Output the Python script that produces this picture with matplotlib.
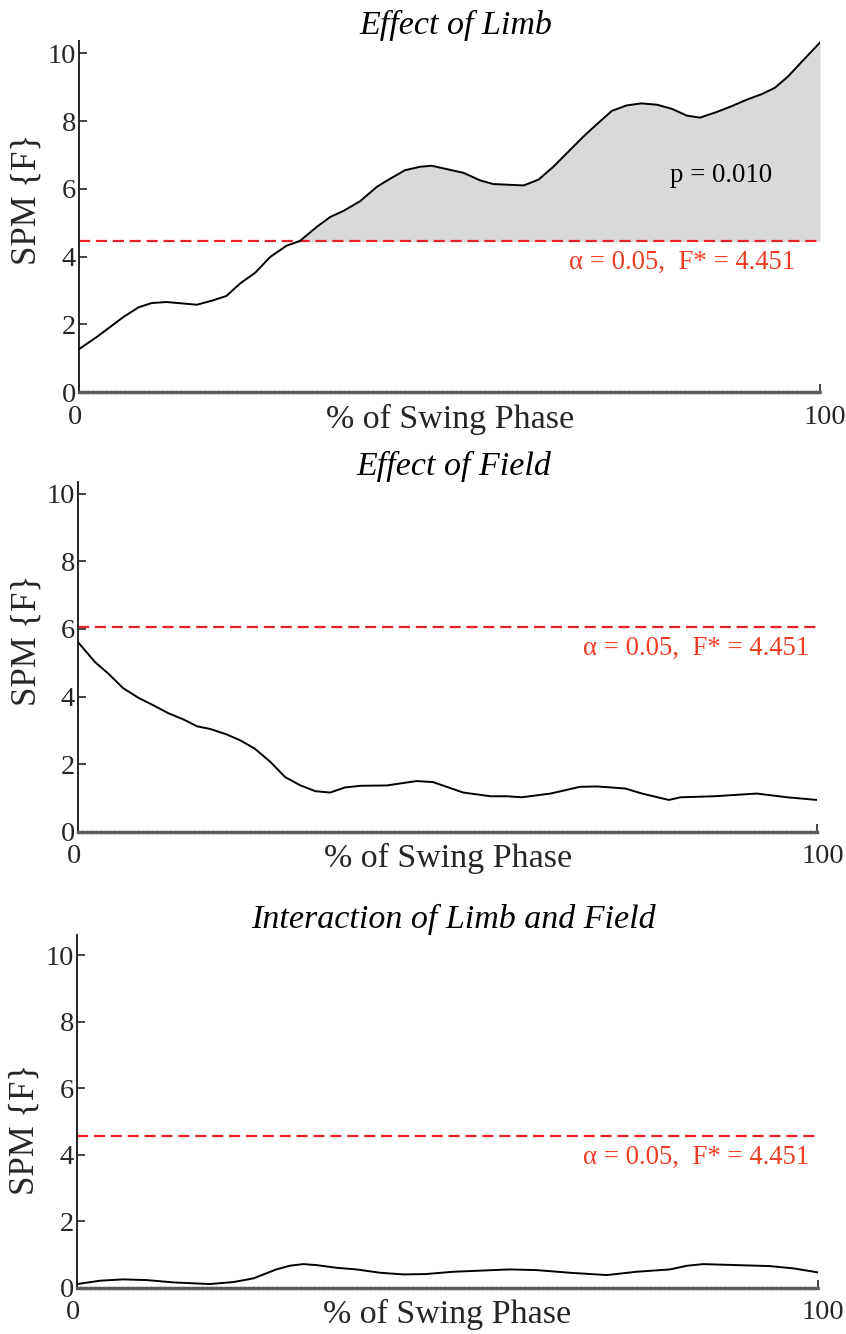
import numpy as np
import matplotlib.pyplot as plt
from matplotlib.transforms import ScaledTranslation

# values (x in % of swing phase, y = SPM{F})
limb_x = [0, 2.4, 6.0, 8.0, 9.8, 11.8, 13.9, 15.9, 18.1, 19.9, 21.7, 23.8, 25.8, 28.0,
          29.8, 32.1, 33.9, 35.7, 37.9, 40.2, 42.0, 44.0, 46.0, 47.6, 51.9, 54.1, 55.9,
          60.0, 62.0, 64.0, 66.0, 68.1, 69.9, 71.9, 73.9, 75.9, 78.0, 80.0, 82.0, 83.8,
          86.1, 88.1, 90.1, 92.1, 93.9, 95.7, 97.7, 100]
limb_f = [1.27, 1.63, 2.22, 2.50, 2.63, 2.66, 2.62, 2.58, 2.71, 2.84, 3.20, 3.53, 3.99, 4.32,
          4.46, 4.88, 5.17, 5.35, 5.63, 6.06, 6.30, 6.55, 6.65, 6.68, 6.47, 6.25, 6.14,
          6.10, 6.27, 6.65, 7.09, 7.55, 7.91, 8.30, 8.46, 8.52, 8.48, 8.36, 8.16, 8.10,
          8.27, 8.44, 8.63, 8.79, 8.98, 9.32, 9.79, 10.32]

field_x = [0, 2.3, 4.1, 6.1, 8.2, 10.2, 12.2, 14.3, 16.1, 17.9, 20.1, 21.9, 23.9, 26.0,
           28.0, 30.0, 32.1, 34.1, 36.1, 38.2, 41.8, 43.6, 45.8, 48.0, 52.1, 55.8, 58.0,
           60.0, 63.9, 67.9, 70.2, 74.0, 76.3, 79.9, 81.5, 86.0, 91.8, 95.9, 100]
field_f = [5.61, 5.02, 4.68, 4.25, 3.96, 3.74, 3.51, 3.32, 3.12, 3.04, 2.88, 2.71, 2.46, 2.07,
           1.62, 1.38, 1.20, 1.16, 1.31, 1.36, 1.37, 1.43, 1.50, 1.47, 1.16, 1.05, 1.05,
           1.02, 1.13, 1.33, 1.34, 1.28, 1.13, 0.94, 1.02, 1.05, 1.13, 1.02, 0.94]

inter_x = [0, 3.1, 6.2, 9.4, 13.0, 17.9, 21.1, 23.8, 26.9, 28.7, 30.5, 32.3, 35.0, 37.7,
           40.9, 44.0, 47.0, 50.8, 58.4, 62.0, 66.5, 71.5, 75.5, 80.0, 82.3, 84.5, 89.0,
           93.5, 96.7, 100]
inter_f = [0.11, 0.21, 0.25, 0.23, 0.16, 0.11, 0.17, 0.28, 0.55, 0.66, 0.71, 0.68, 0.60, 0.55,
           0.45, 0.40, 0.41, 0.48, 0.55, 0.53, 0.45, 0.38, 0.48, 0.55, 0.66, 0.71, 0.68,
           0.65, 0.58, 0.46]

titles = ["Effect of Limb", "Effect of Field", "Interaction of Limb and Field"]
thresholds = [4.451, 6.05, 4.55]   # where the dashed lines sit in the figure
crit_label = "\u03b1 = 0.05,  F* = 4.451"
p_label = "p = 0.010"

plt.rcParams['font.family'] = ['Liberation Serif', 'DejaVu Serif']
TXT = '#262626'
RED_LINE = '#e8202a'
RED_TXT = '#f03c24'

fig = plt.figure(figsize=(8.46, 13.34), dpi=100)
# [left, bottom, width, height] in figure fraction
boxes = [[0.0934, 0.706, 0.876, 0.263],
         [0.0922, 0.3765, 0.874, 0.2622],
         [0.0910, 0.0347, 0.876, 0.2642]]
ytops = [10.35, 10.35, 10.6]
label_y = [0.55, 0.547, 0.45]
crit_x = [96.6, 98.9, 98.8]

data = [(limb_x, limb_f), (field_x, field_f), (inter_x, inter_f)]

for i, (xs, fs) in enumerate(data):
    ax = fig.add_axes(boxes[i])
    xs = np.array(xs)
    fs = np.array(fs)
    thr = thresholds[i]

    if i == 0:
        # shade supra-threshold cluster
        ax.fill_between(xs, thr, fs, where=fs >= thr, interpolate=True,
                        color='#d9d9d9', lw=0, zorder=1)
        ax.text(86.6, 6.4, p_label, ha='center', va='center', fontsize=19.3, color='black')

    ax.plot(xs, fs, color='black', lw=1.4, zorder=3)
    ax.axhline(thr, color=RED_LINE, lw=1.6, ls=(0, (5, 2.6)), zorder=2)
    ax.text(crit_x[i], thr - 0.26, crit_label, ha='right', va='top',
            fontsize=19.3, color=RED_TXT)

    ax.set_xlim(0, 100)
    ax.set_ylim(0, ytops[i])
    ax.set_yticks([0, 2, 4, 6, 8, 10])
    ax.set_xticks([0, 100])
    ax.tick_params(axis='both', direction='in', length=6, width=1.2,
                   labelsize=20.5, colors=TXT)
    ax.tick_params(axis='y', pad=2)
    ax.tick_params(axis='x', pad=9)
    xl = ax.get_xticklabels()
    xl[0].set_transform(xl[0].get_transform() + ScaledTranslation(-4 / 100, 0, fig.dpi_scale_trans))
    xl[1].set_transform(xl[1].get_transform() + ScaledTranslation(5 / 100, 0, fig.dpi_scale_trans))

    for s in ['top', 'right']:
        ax.spines[s].set_visible(False)
    ax.spines['left'].set_linewidth(1.4)
    ax.spines['left'].set_color(TXT)
    ax.spines['bottom'].set_linewidth(2.4)
    ax.spines['bottom'].set_color('#5a5a5a')
    ax.spines['bottom'].set_linestyle((0, (1, 0.4)))

    ax.set_title(titles[i], style='italic', fontsize=24.5, color='black', pad=-2, x=0.508)
    ax.set_ylabel("SPM {F}", fontsize=25, color=TXT)
    ax.yaxis.set_label_coords(-0.047, label_y[i])
    ax.set_xlabel("% of Swing Phase", fontsize=24.5, color=TXT)
    ax.xaxis.set_label_coords(0.5, -0.033)

fig.savefig("out.png", dpi=100)
